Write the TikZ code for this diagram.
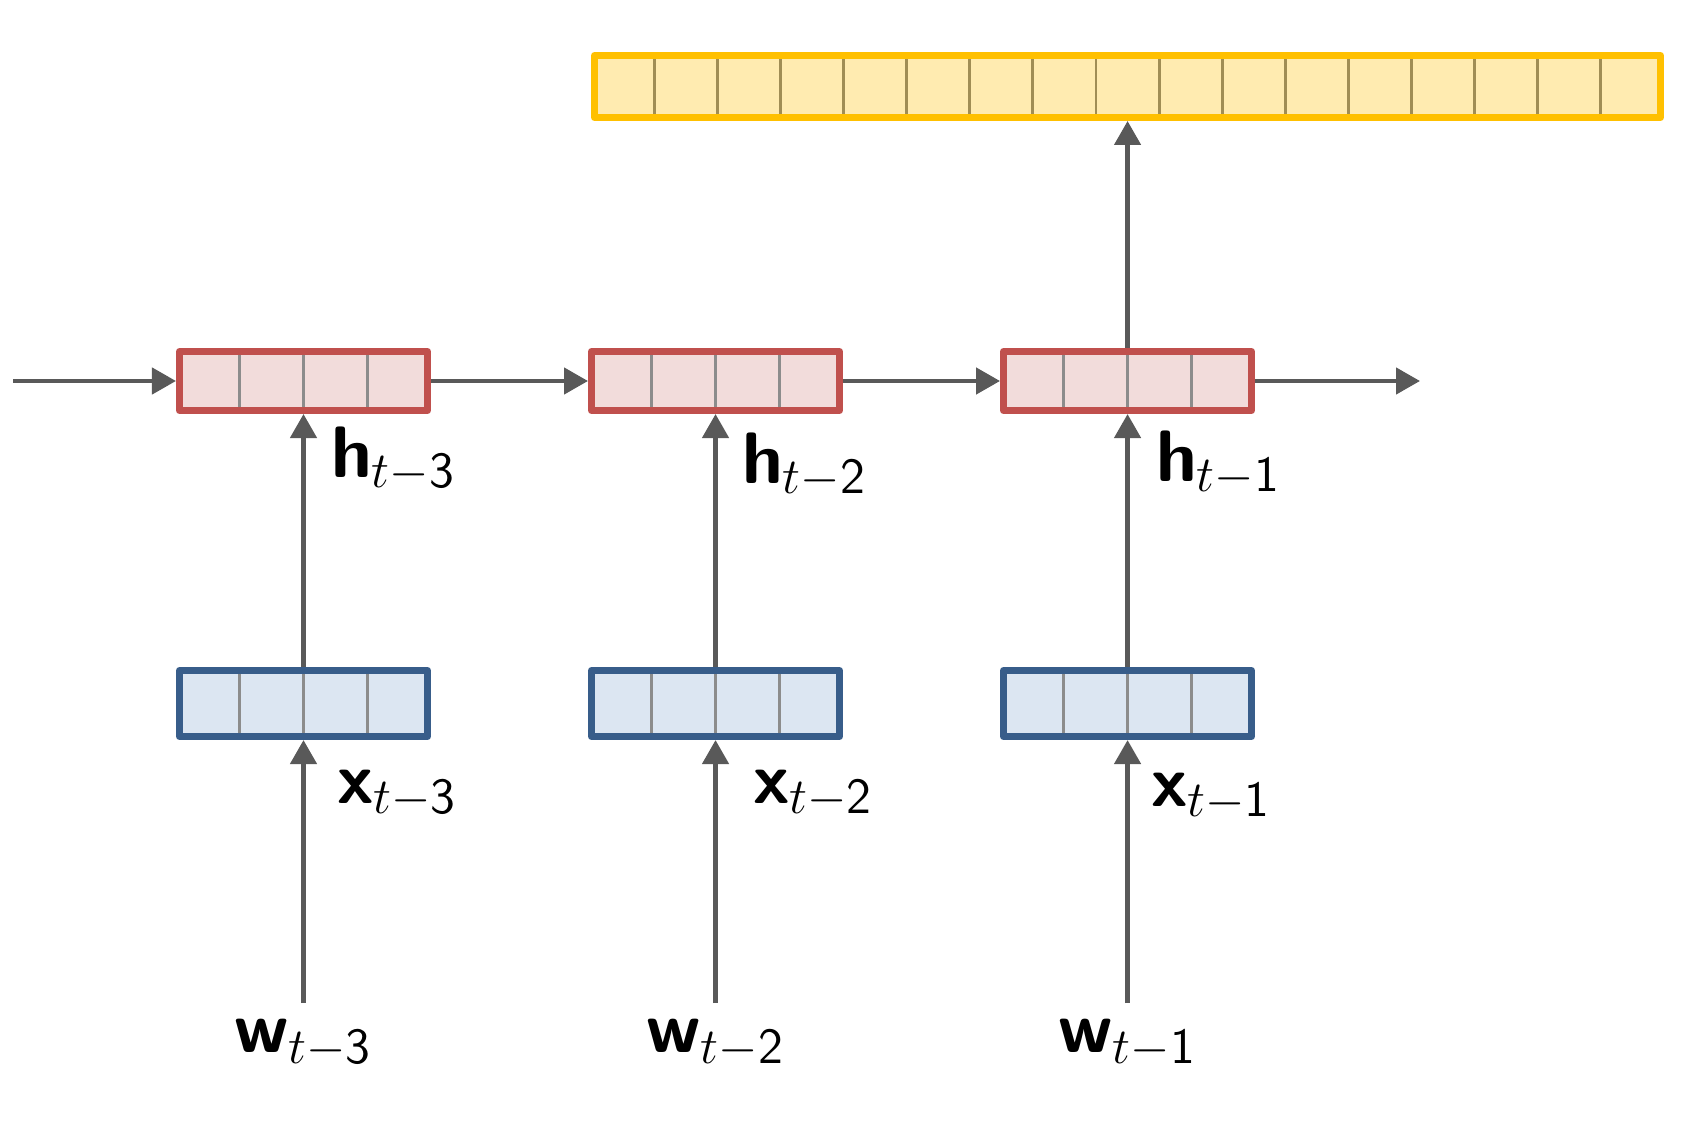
\documentclass[tikz,border=0pt]{standalone}
\usepackage{xcolor}
\usepackage{tikz}
\usetikzlibrary{positioning,arrows.meta,calc}

\definecolor{hborder}{HTML}{C0504D}
\definecolor{hfill}{HTML}{F2DCDB}
\definecolor{xborder}{HTML}{385D8A}
\definecolor{xfill}{HTML}{DCE6F2}
\definecolor{oborder}{HTML}{FFC000}
\definecolor{ofill}{HTML}{FFEBB0}
\definecolor{arrowgray}{HTML}{595959}
\definecolor{cellgray}{HTML}{8C8C8C}
\definecolor{cellbrown}{HTML}{A08D55}

\begin{document}
\begin{tikzpicture}[
    node distance=1.57cm,
    vecbox/.style={
        rectangle,
        line width=2pt,
        line join=round,
        minimum width=2.48cm,
        inner sep=0pt
    },
    hidden/.style={vecbox, draw=hborder, fill=hfill, minimum height=0.59cm},
    embed/.style={vecbox, draw=xborder, fill=xfill, minimum height=0.66cm},
    context/.style={vecbox, draw=oborder, fill=ofill, minimum width=10.66cm, minimum height=0.62cm},
    divider/.style={line width=0.85pt, draw=cellgray, shorten >=2pt, shorten <=2pt},
    lbl/.style={font=\huge, inner sep=4.5pt},
    arrow/.style={
        -{Triangle[length=2.4mm, width=2.6mm]},
        line width=1.3pt,
        draw=arrowgray
    }
]
\useasboundingbox (0,0) rectangle (17,11.22);

% Hidden states
\node[hidden] (h1) at (3.035,7.41) {};
\node[hidden, right=of h1] (h2) {};
\node[hidden, right=of h2] (h3) {};

% Embeddings
\node[embed, below=2.53cm of h1] (x1) {};
\node[embed, below=2.53cm of h2] (x2) {};
\node[embed, below=2.53cm of h3] (x3) {};

% Words
\node[lbl, below=2.63cm of x1] (w1) {\textsf{\textbf{w}}$_{t-\mathsf{3}}$};
\node[lbl, below=2.63cm of x2] (w2) {\textsf{\textbf{w}}$_{t-\mathsf{2}}$};
\node[lbl, below=2.63cm of x3] (w3) {\textsf{\textbf{w}}$_{t-\mathsf{1}}$};

% Output vector
\node[context, above=2.27cm of h3] (out) {};

% Cell dividers
\foreach \v in {h1,h2,h3,x1,x2,x3}
    \foreach \i in {1,2,3}
        \draw[divider] ($(\v.south west)!\i/4!(\v.south east)$) -- ($(\v.north west)!\i/4!(\v.north east)$);
\foreach \i in {1,...,16}
    \draw[divider, draw=cellbrown] ($(out.south west)!\i/17!(out.south east)$) -- ($(out.north west)!\i/17!(out.north east)$);

% Recurrence
\coordinate (hstart) at (0.13,7.41);
\coordinate (hend) at (14.20,7.41);
\draw[arrow] (hstart) -- (h1);
\draw[arrow] (h1) -- (h2);
\draw[arrow] (h2) -- (h3);
\draw[arrow] (h3) -- (hend);

% Inputs
\foreach \i in {1,2,3} {
    \draw[arrow] (w\i) -- (x\i);
    \draw[arrow] (x\i) -- (h\i);
}
\draw[arrow] (h3) -- (out);

% Labels
\node[lbl, anchor=base west] (lh1) at ($(h1.south)+(0.11,-0.63)$) {\textsf{\textbf{h}}$_{t-\mathsf{3}}$};
\node[lbl, anchor=base west] (lh2) at ($(h2.south)+(0.10,-0.69)$) {\textsf{\textbf{h}}$_{t-\mathsf{2}}$};
\node[lbl, anchor=base west] (lh3) at ($(h3.south)+(0.12,-0.67)$) {\textsf{\textbf{h}}$_{t-\mathsf{1}}$};
\node[lbl, anchor=base west] (lx1) at ($(x1.south)+(0.17,-0.63)$) {\textsf{\textbf{x}}$_{t-\mathsf{3}}$};
\node[lbl, anchor=base west] (lx2) at ($(x2.south)+(0.21,-0.63)$) {\textsf{\textbf{x}}$_{t-\mathsf{2}}$};
\node[lbl, anchor=base west] (lx3) at ($(x3.south)+(0.07,-0.66)$) {\textsf{\textbf{x}}$_{t-\mathsf{1}}$};

\end{tikzpicture}
\end{document}
